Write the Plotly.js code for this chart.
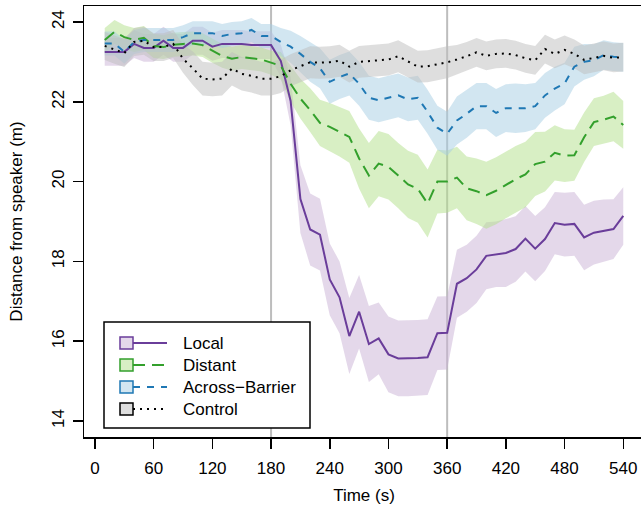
<!DOCTYPE html>
<html>
<head>
<meta charset="utf-8">
<script src="https://cdn.plot.ly/plotly-3.0.1.min.js"></script>
<style>html,body{margin:0;padding:0;overflow:hidden;background:#fff;}#plot{width:645px;height:512px;}</style>
</head>
<body>
<div id="plot"></div>
<script>
// ---- data ----
const timeS = [10,20,30,40,50,60,70,80,90,100,110,120,130,140,150,160,170,180,190,200,
  210,220,230,240,250,260,270,280,290,300,310,320,330,340,350,360,370,380,390,400,
  410,420,430,440,450,460,470,480,490,500,510,520,530,540];

const localMean = [23.25,23.25,23.25,23.45,23.35,23.35,23.53,23.35,23.35,23.53,
  23.53,23.38,23.45,23.45,23.45,23.42,23.42,23.42,23.02,22.02,
  19.56,18.8,18.67,17.55,17.1,16.13,16.74,15.93,16.07,15.67,
  15.57,15.57,15.58,15.6,16.2,16.21,17.44,17.58,17.8,18.14,
  18.18,18.21,18.31,18.57,18.32,18.56,18.96,18.92,18.94,18.6,
  18.72,18.77,18.81,19.14];
const localSE = [0.35,0.35,0.35,0.35,0.35,0.35,0.35,0.35,0.35,0.35,0.35,0.35,0.35,0.35,0.35,0.35,0.35,0.35,
  0.4,0.6,0.85,
  0.9,0.9,0.9,0.9,0.95,0.92,0.95,0.9,0.95,0.95,0.95,0.95,0.95,0.92,0.92,
  0.85,0.84,0.84,0.84,0.82,0.85,0.82,0.82,0.82,0.8,0.78,0.8,0.8,0.82,0.8,0.78,0.75,0.72];

const distantMean = [23.55,23.75,23.62,23.55,23.6,23.4,23.37,23.43,23.45,23.46,
  23.42,23.28,23.15,23.08,23.12,23.09,23.06,22.98,22.9,22.45,
  22.08,21.79,21.47,21.37,21.25,21.12,20.58,20.15,20.45,20.37,
  20.15,19.93,19.82,19.45,20.0,20.0,20.1,19.83,19.76,19.66,
  19.77,19.92,20.06,20.18,20.44,20.5,20.72,20.65,20.66,21.11,
  21.49,21.55,21.63,21.42];
const distantSE = [0.3,0.3,0.3,0.3,0.3,0.3,0.3,0.3,0.3,0.3,0.3,0.3,0.3,0.3,0.3,0.3,0.3,0.3,
  0.35,0.45,0.5,0.55,0.58,0.6,0.62,0.65,0.75,0.82,
  0.82,0.82,0.82,0.84,0.85,0.85,0.8,0.78,
  0.77,0.8,0.82,0.84,0.84,0.84,0.83,0.82,0.8,0.75,
  0.69,0.66,0.64,0.62,0.6,0.6,0.62,0.6];

const acrossMean = [23.46,23.46,23.25,23.5,23.55,23.55,23.55,23.55,23.62,23.72,
  23.72,23.72,23.65,23.7,23.72,23.8,23.65,23.65,23.5,23.38,
  23.2,23.0,22.84,22.5,22.62,22.71,22.45,22.1,22.04,22.1,
  22.16,22.06,22.1,21.75,21.35,21.2,21.53,21.7,21.89,21.89,
  21.72,21.84,21.84,21.84,21.89,22.16,22.33,22.46,22.88,23.0,
  23.04,23.17,23.13,23.11];
const acrossSE = [0.3,0.3,0.3,0.3,0.3,0.3,0.3,0.3,0.3,0.3,0.3,0.3,0.3,0.3,0.3,0.3,0.3,0.3,
  0.35,0.4,0.45,0.5,0.5,
  0.55,0.55,0.55,0.55,0.55,0.55,0.55,0.55,0.55,0.55,0.55,0.55,0.55,0.6,
  0.6,0.58,0.58,0.6,0.6,0.62,0.6,0.58,0.56,
  0.55,0.52,0.5,0.45,0.4,0.37,0.36,0.36];

const controlMean = [23.4,23.3,23.22,23.5,23.53,23.37,23.37,23.45,23.08,22.84,
  22.58,22.56,22.58,22.83,22.7,22.65,22.58,22.58,22.64,22.79,
  22.9,22.99,22.98,22.99,23.03,22.88,23.0,23.02,23.04,23.06,
  23.14,23.0,22.88,22.89,22.94,22.99,23.06,23.14,23.24,23.15,
  23.2,23.21,23.17,23.09,23.04,23.32,23.2,23.3,23.2,23.05,
  23.1,23.15,23.1,23.12];
const controlSE = [0.35,0.35,0.35,0.35,0.35,0.35,0.35,0.35,0.35,
  0.42,0.42,0.42,0.42,0.42,0.42,0.42,0.42,0.42,0.42,
  0.4,0.4,0.4,0.4,0.4,0.4,0.4,0.4,0.4,0.4,0.4,0.4,0.4,0.4,0.4,0.4,0.4,
  0.36,0.36,0.36,0.36,0.36,0.36,0.36,0.36,0.36,0.36,0.36,0.36,0.36,0.36,0.36,0.36,0.36,0.36];

const seriesNames = ['Local','Distant','Across\u2212Barrier','Control'];
const xTicks = [0,60,120,180,240,300,360,420,480,540];
const yTicks = [14,16,18,20,22,24];
const markTimes = [180,360];

// ---- styles ----
const styles = [
  {line:'#6a3d9a', fill:'rgba(202,178,214,0.5)', dash:'solid', width:2},
  {line:'#33a02c', fill:'rgba(178,223,138,0.5)', dash:'12px,7px', width:2},
  {line:'#1f78b4', fill:'rgba(166,206,227,0.5)', dash:'7px,7px', width:2},
  {line:'#000000', fill:'rgba(190,190,190,0.5)', dash:'2px,5px', width:2}
];
const means = [localMean, distantMean, acrossMean, controlMean];
const ses = [localSE, distantSE, acrossSE, controlSE];

const traces = [];
means.forEach((m, i) => {
  const up = m.map((v, k) => v + ses[i][k]);
  const lo = m.map((v, k) => v - ses[i][k]);
  traces.push({
    x: timeS.concat(timeS.slice().reverse()),
    y: up.concat(lo.slice().reverse()),
    type: 'scatter', mode: 'lines', fill: 'toself',
    fillcolor: styles[i].fill, line: {width: 0}, hoverinfo: 'skip', showlegend: false
  });
});
means.forEach((m, i) => {
  traces.push({
    x: timeS, y: m, type: 'scatter', mode: 'lines', name: seriesNames[i],
    line: {color: styles[i].line, width: styles[i].width, dash: styles[i].dash},
    showlegend: false
  });
});

// ---- layout ----
const W = 645, H = 512, ML = 84, MR = 1, MT = 6, MB = 75;
const pw = W - ML - MR, ph = H - MT - MB;
const px = v => (v - ML) / pw;
const py = v => (H - MB - v) / ph;
const FONT = 'Liberation Sans, Arial, Helvetica, sans-serif';

const shapes = markTimes.map(t => ({
  type: 'line', xref: 'x', yref: 'paper', x0: t, x1: t, y0: 0, y1: 1,
  line: {color: '#bdbdbd', width: 2}, layer: 'below'
}));
// legend box
shapes.push({type:'rect', xref:'paper', yref:'paper', x0:px(104), x1:px(310), y0:py(428), y1:py(322),
  fillcolor:'#ffffff', line:{color:'#000', width:1.5}});
const annotations = [];
seriesNames.forEach((n, i) => {
  const cy = 343 + 22 * i;
  shapes.push({type:'line', xref:'paper', yref:'paper', x0:px(133), x1:px(167), y0:py(cy), y1:py(cy),
    line:{color:styles[i].line, width:styles[i].width, dash:styles[i].dash}});
  shapes.push({type:'rect', xref:'paper', yref:'paper', x0:px(120), x1:px(133), y0:py(cy+6), y1:py(cy-6),
    fillcolor:styles[i].fill, line:{color:styles[i].line, width:1.5}});
  annotations.push({xref:'paper', yref:'paper', x:px(181), y:py(cy), text:n, showarrow:false,
    xanchor:'left', yanchor:'middle', font:{family:FONT, size:17, color:'#000'}});
});

const axisCommon = {
  showgrid:false, zeroline:false, showline:true, linecolor:'#000', linewidth:1.5, mirror:true,
  ticks:'outside', ticklen:10, tickwidth:1.5, tickcolor:'#000',
  tickfont:{family:FONT, size:17, color:'#000'}
};
const layout = {
  width: W, height: H,
  margin: {l: ML, r: MR, t: MT, b: MB},
  paper_bgcolor:'#fff', plot_bgcolor:'#fff',
  font:{family:FONT, size:17, color:'#000'},
  xaxis: Object.assign({}, axisCommon, {
    range:[-11.2, 561.2], tickvals:xTicks, ticktext:xTicks.map(String), ticklabelstandoff:5,
    title:{text:'Time (s)', font:{family:FONT, size:17, color:'#000'}, standoff:12}
  }),
  yaxis: Object.assign({}, axisCommon, {
    range:[13.6, 24.4], tickvals:yTicks, ticktext:yTicks.map(String), tickangle:-90,
    ticklabelstandoff:2,
    title:{text:'Distance from speaker (m)', font:{family:FONT, size:17, color:'#000'}, standoff:22}
  }),
  shapes: shapes, annotations: annotations, showlegend:false
};
Plotly.newPlot('plot', traces, layout, {staticPlot:true, displayModeBar:false});
</script>
</body>
</html>
